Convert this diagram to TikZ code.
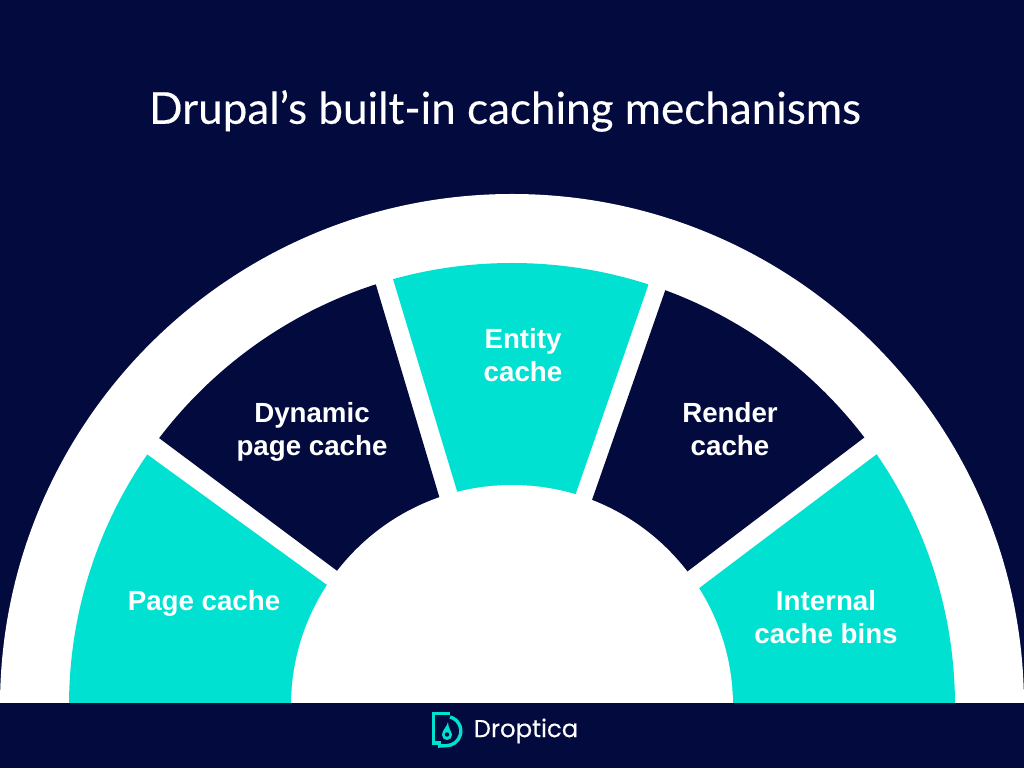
\documentclass[tikz,border=0pt]{standalone}
\usepackage{fontspec}
\setmainfont{Lato}
\newfontfamily\titlefont[FakeBold=0.25]{Lato}
\newfontfamily\labfont{Liberation Sans}
\newfontfamily\brandfont[FakeBold=0.3]{Poppins}
\usetikzlibrary{calc}
\definecolor{navy}{HTML}{020A3E}
\definecolor{teal}{HTML}{00E1D2}
\tikzset{lab/.style={text=white,font=\labfont\bfseries\fontsize{27.7}{33}\selectfont,align=center,inner sep=0pt}}
\newcommand{\wedgeshape}[5]{% colour, outer A, inner A, inner B, outer B
  \fill[#1] ($(#3)!1.15!(#2)$) -- ($(#2)!1.08!(#3)$) -- ($(#5)!1.08!(#4)$) -- ($(#4)!1.15!(#5)$) -- cycle;}
\begin{document}
\begin{tikzpicture}[x=1pt,y=1pt]
\useasboundingbox (0,0) rectangle (1024,768);
\fill[navy] (0,0) rectangle (1024,768);
\coordinate (C) at (512,62);
\begin{scope}
\clip (0,66) rectangle (1024,768);
\fill[white] (C) circle[radius=512];
\begin{scope}
\clip (C) circle[radius=443];
\wedgeshape{teal}{148,313}{327,183}{327,60}{0,60}
\wedgeshape{navy}{159,330}{336,198}{439,272}{376,483}
\wedgeshape{teal}{393,489}{457,277}{576,275}{649,485}
\wedgeshape{navy}{665,477}{592,268}{688,197}{865,331}
\wedgeshape{teal}{877,314}{698,179}{698,60}{1024,60}
\end{scope}
\fill[white] (C) circle[radius=221];
\end{scope}
\node[lab] (a) at (204,165) {Page cache};
\node[lab] (b) at (312,336) {Dynamic\\page cache};
\node[lab] (c) at (523,413) {Entity\\cache};
\node[lab] (d) at (730,339) {Render\\cache};
\node[lab] (e) at (826,151) {Internal\\cache bins};
\node[text=white,font=\titlefont\fontsize{44}{50}\selectfont,inner sep=0pt] (t) at (505,657) {Drupal’s built-in caching mechanisms};
\node[text=white,font=\brandfont\fontsize{24.4}{28}\selectfont,inner sep=0pt] (l) at (526,37) {Droptica};
% logo
\draw[teal,line width=3.4pt,line join=miter] (450,54.3) -- (433.7,54.3) -- (433.7,25) -- (441,25);
\draw[teal,line width=3.4pt] (450,51) arc[start angle=75,end angle=-90,radius=14.6] -- (438,21.9);
\fill[teal] (448,46) .. controls (447,41) and (442,38) .. (442,33) arc[start angle=180,end angle=360,radius=5] .. controls (452,36) and (448,40) .. cycle;
\fill[navy] (447,33.5) circle[radius=2.2];
\end{tikzpicture}
\end{document}
